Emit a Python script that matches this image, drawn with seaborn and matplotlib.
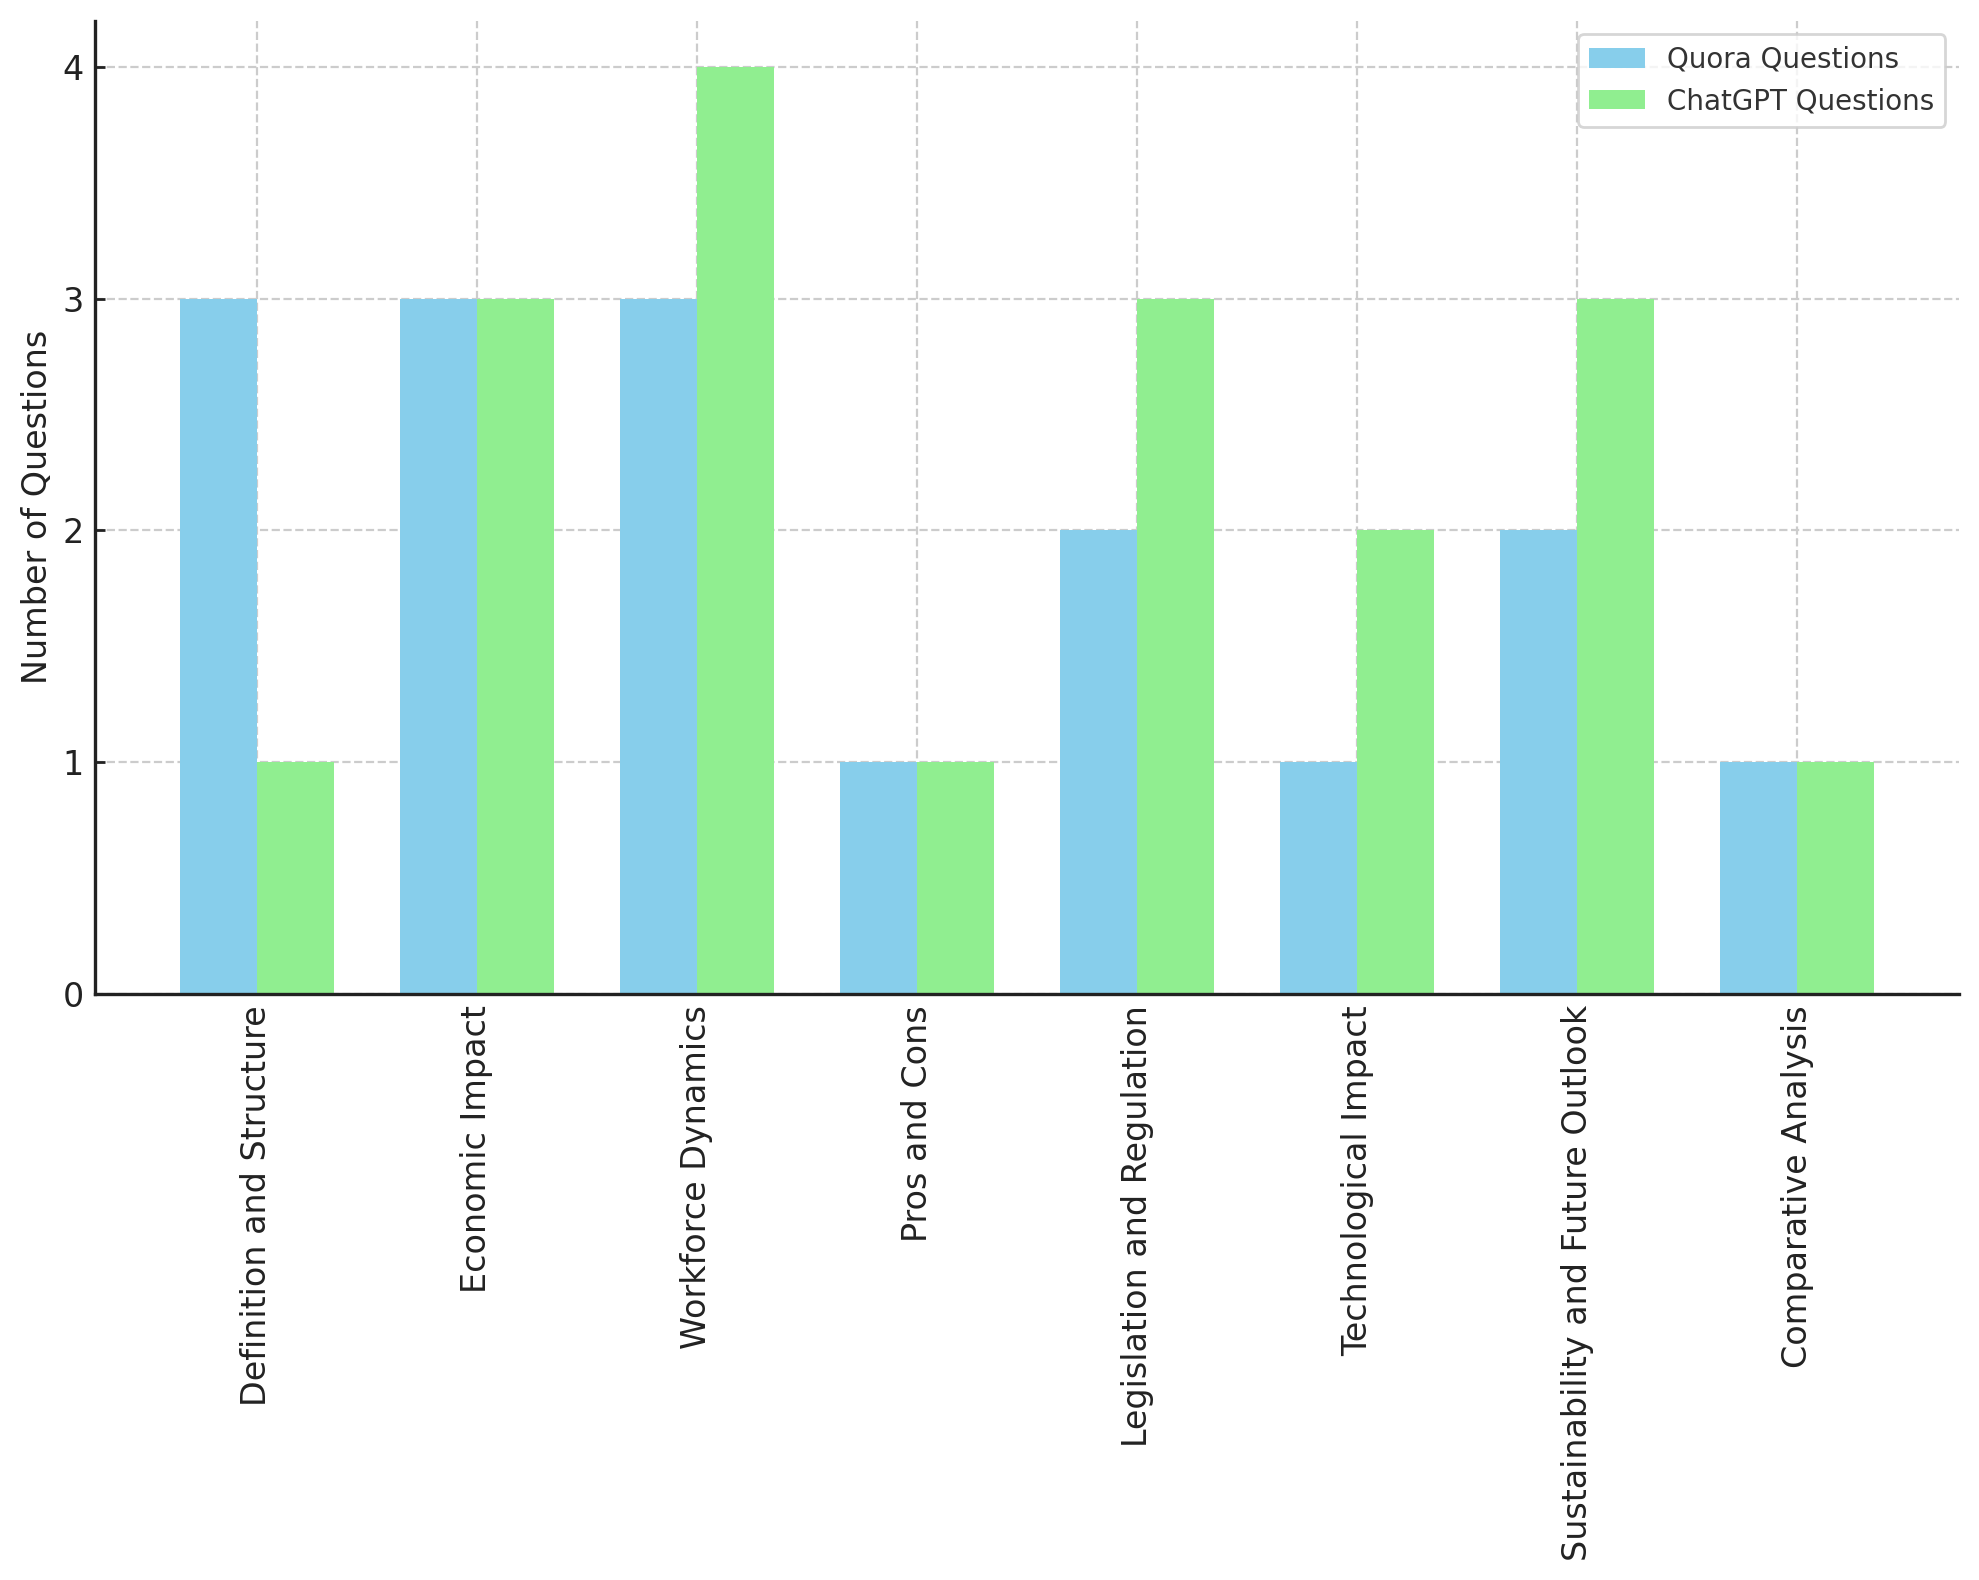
import matplotlib
matplotlib.use("Agg")
import matplotlib.pyplot as plt
import seaborn as sns
import pandas as pd

categories = ["Definition and Structure", "Economic Impact", "Workforce Dynamics",
              "Pros and Cons", "Legislation and Regulation", "Technological Impact",
              "Sustainability and Future Outlook", "Comparative Analysis"]
quora = [3, 3, 3, 1, 2, 1, 2, 1]
chatgpt = [1, 3, 4, 1, 3, 2, 3, 1]
series = ["Quora Questions", "ChatGPT Questions"]

df = pd.DataFrame({
    "Category": categories * 2,
    "Count": quora + chatgpt,
    "Source": [series[0]] * len(categories) + [series[1]] * len(categories),
})

sns.set_style("whitegrid")
plt.rcParams['font.family'] = ['DejaVu Sans']

fig = plt.figure(figsize=(1979 / 200, 1580 / 200), dpi=200)
ax = fig.add_axes([0.048, 0.371, 0.942, 0.616])

sns.barplot(data=df, x="Category", y="Count", hue="Source", order=categories,
            hue_order=series, palette=["skyblue", "lightgreen"], width=0.7,
            saturation=1, ax=ax, zorder=2, linewidth=0, edgecolor="none")

ax.set_xlim(-0.735, 7.735)
ax.set_ylim(0, 4.2)
ax.set_yticks([0, 1, 2, 3, 4])
ax.grid(True, linestyle="--", color="#cccccc", linewidth=0.8, zorder=0)
ax.set_axisbelow(True)
ax.set_xlabel("")
ax.set_ylabel("Number of Questions", fontsize=12, color="#222222", labelpad=3)
ax.tick_params(axis="x", rotation=90, labelsize=12, length=3.5, width=1, colors="#222222",
               direction="in", bottom=True, pad=4)
ax.tick_params(axis="y", labelsize=12, length=3.5, width=1, colors="#222222",
               direction="in", left=True, pad=4)
for s in ["top", "right"]:
    ax.spines[s].set_visible(False)
for s in ["left", "bottom"]:
    ax.spines[s].set_color("#222222")
    ax.spines[s].set_linewidth(1.2)

leg = ax.legend(loc="upper right", fontsize=10, frameon=True, framealpha=0.8)
leg.get_frame().set_edgecolor("#cccccc")
for t in leg.get_texts():
    t.set_color("#333333")

fig.savefig("out.png", dpi=200)
